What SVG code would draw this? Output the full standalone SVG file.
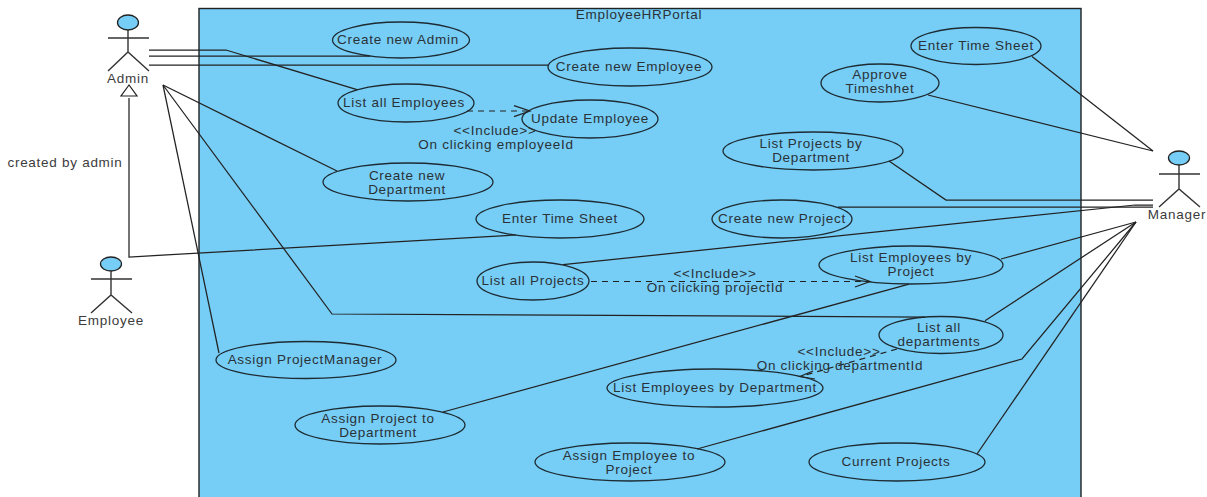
<svg xmlns="http://www.w3.org/2000/svg" width="1207" height="497" viewBox="0 0 1207 497">
<defs>
<style>
text{font-family:"Liberation Sans",Arial,sans-serif;font-size:13.5px;letter-spacing:.72px;fill:#2a3238;text-anchor:middle}
.out{fill:#3c3c3c}
.uc{fill:#76cdf5;stroke:#1d2b33;stroke-width:1.3}
.head{fill:#76cdf5;stroke:#222;stroke-width:1.3}
.act{fill:none;stroke:#333;stroke-width:1.4}
.c{fill:none;stroke:#222;stroke-width:1.25}
.d{fill:none;stroke:#222;stroke-width:1.2;stroke-dasharray:6 5}
</style>
</defs>
<g id="system">
<rect x="199" y="8.500" width="882" height="500" fill="#76cdf5" stroke="#222" stroke-width="1.400"/>
<text x="639" y="19">EmployeeHRPortal</text>
</g>
<g id="actor-admin">
<ellipse class="head" cx="128" cy="22.500" rx="10.500" ry="7.500"/>
<path class="act" d="M128 30V52M108 38H149M108 71L128 52L149 71"/>
<text class="out" x="128" y="83">Admin</text>
</g>
<g id="actor-employee">
<ellipse class="head" cx="111" cy="264" rx="10.500" ry="7"/>
<path class="act" d="M111 271V295M91 279H132M91 313L111 295L132 313"/>
<text class="out" x="111" y="325">Employee</text>
</g>
<g id="actor-manager">
<ellipse class="head" cx="1179" cy="158" rx="10.500" ry="7"/>
<path class="act" d="M1179 165V189M1159 174H1200M1159 207L1179 189L1200 207"/>
<text class="out" x="1177" y="219">Manager</text>
</g>
<g id="uc-create-admin"><ellipse class="uc" cx="401" cy="40" rx="68.500" ry="18"/><text x="398" y="44">Create new Admin</text></g>
<g id="uc-create-employee"><ellipse class="uc" cx="630" cy="67" rx="82" ry="19"/><text x="629" y="71">Create new Employee</text></g>
<g id="uc-list-employees"><ellipse class="uc" cx="406" cy="103" rx="68" ry="19"/><text x="404" y="107">List all Employees</text></g>
<g id="uc-update-employee"><ellipse class="uc" cx="590" cy="119" rx="68" ry="19"/><text x="590" y="123">Update Employee</text></g>
<g id="uc-create-department"><ellipse class="uc" cx="408" cy="182" rx="85" ry="19"/><text x="407" y="180">Create new</text><text x="407" y="194">Department</text></g>
<g id="uc-enter-time-left"><ellipse class="uc" cx="560" cy="219" rx="84" ry="19"/><text x="560" y="223">Enter Time Sheet</text></g>
<g id="uc-list-projects"><ellipse class="uc" cx="533" cy="281" rx="56" ry="19"/><text x="533" y="285">List all Projects</text></g>
<g id="uc-assign-pm"><ellipse class="uc" cx="306" cy="360" rx="90" ry="18.500"/><text x="305" y="364">Assign ProjectManager</text></g>
<g id="uc-assign-project-dept"><ellipse class="uc" cx="380" cy="425" rx="85" ry="19"/><text x="378" y="423">Assign Project to</text><text x="378" y="437">Department</text></g>
<g id="uc-assign-employee"><ellipse class="uc" cx="630" cy="462" rx="95" ry="19"/><text x="629" y="460">Assign Employee to</text><text x="629" y="474">Project</text></g>
<g id="uc-current-projects"><ellipse class="uc" cx="897" cy="462" rx="88" ry="19"/><text x="896" y="466">Current Projects</text></g>
<g id="uc-list-emp-dept"><ellipse class="uc" cx="715" cy="388" rx="108" ry="19"/><text x="715" y="392">List Employees by Department</text></g>
<g id="uc-list-departments"><ellipse class="uc" cx="941" cy="335" rx="62" ry="18.500"/><text x="939" y="332">List all</text><text x="939" y="346">departments</text></g>
<g id="uc-list-emp-project"><ellipse class="uc" cx="911" cy="265" rx="92" ry="19"/><text x="911" y="262">List Employees by</text><text x="911" y="276">Project</text></g>
<g id="uc-create-project"><ellipse class="uc" cx="782" cy="219" rx="70" ry="19"/><text x="782" y="223">Create new Project</text></g>
<g id="uc-list-projects-dept"><ellipse class="uc" cx="813" cy="151" rx="90" ry="19"/><text x="811" y="148">List Projects by</text><text x="811" y="162">Department</text></g>
<g id="uc-approve"><ellipse class="uc" cx="880" cy="83" rx="59" ry="19"/><text x="880" y="79">Approve</text><text x="880" y="93">Timeshhet</text></g>
<g id="uc-enter-time-right"><ellipse class="uc" cx="976" cy="46" rx="65" ry="18.500"/><text x="976" y="50">Enter Time Sheet</text></g>
<g id="connectors">
<path class="c" d="M149 50H226L357 89.700"/>
<path class="c" d="M149 56H370"/>
<path class="c" d="M149 65H548"/>
<path class="c" d="M163 85L337 171"/>
<path class="c" d="M163 85L332 314L925 317"/>
<path class="c" d="M163 85L219 353"/>
<path class="c" d="M129 98V257L516 235"/>
<path fill="#fff" stroke="#222" stroke-width="1.200" d="M129 85L121 96H137Z"/>
<path class="c" d="M1032 56.500L1153 151"/>
<path class="c" d="M928 95L1153 151"/>
<path class="c" d="M889 161L946 200H1153"/>
<path class="c" d="M838 207H1153"/>
<path class="c" d="M563 264.700L1135 205H1153"/>
<path class="c" d="M443 412L909 284.200"/>
<path class="c" d="M1001 259L1136 222"/>
<path class="c" d="M985 320.700L1136 222"/>
<path class="c" d="M697 449L1022 359L1136 222"/>
<path class="c" d="M977 454L1136 222"/>
<path class="d" d="M467 111H527"/>
<path class="c" d="M514 105.700L530 111L514 116.700"/>
<path class="d" d="M591 281.500H868"/>
<path class="c" d="M855 276L870 281.500L855 287"/>
<path class="d" d="M897 349L802 376"/>
<path class="c" d="M813 371L800 376.500L815 379"/>
</g>
<g id="labels">
<text x="495" y="135">&lt;&lt;Include&gt;&gt;</text>
<text x="496" y="149">On clicking employeeId</text>
<text x="715" y="278">&lt;&lt;Include&gt;&gt;</text>
<text x="715" y="292">On clicking projectId</text>
<text x="839" y="356">&lt;&lt;Include&gt;&gt;</text>
<text x="840" y="370">On clicking departmentId</text>
<text class="out" x="65" y="167">created by admin</text>
</g>
</svg>
